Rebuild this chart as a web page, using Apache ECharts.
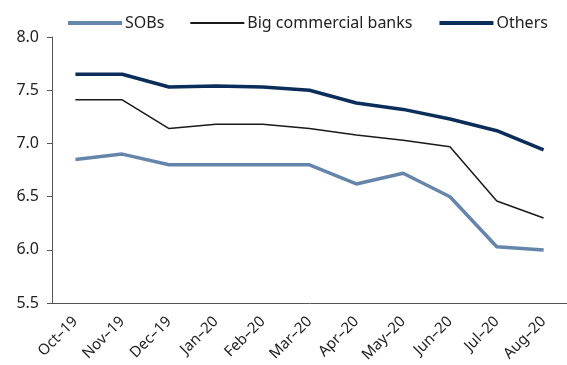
<!DOCTYPE html>
<html><head><meta charset="utf-8">
<script src="https://cdn.jsdelivr.net/npm/echarts@6/dist/echarts.min.js"></script>
<style>html,body{margin:0;padding:0;background:#fff}#c{width:567px;height:365px}</style>
</head><body><div id="c"></div>
<script>
const categories = ['Oct–19','Nov–19','Dec–19','Jan–20','Feb–20','Mar–20','Apr–20','May–20','Jun–20','Jul–20','Aug–20'];
const sobs = [6.85, 6.90, 6.80, 6.80, 6.80, 6.80, 6.62, 6.72, 6.50, 6.03, 6.00];
const bigBanks = [7.41, 7.41, 7.14, 7.18, 7.18, 7.14, 7.08, 7.03, 6.97, 6.46, 6.30];
const others = [7.65, 7.65, 7.53, 7.54, 7.53, 7.50, 7.38, 7.32, 7.23, 7.12, 6.94];
const yTicks = [5.5, 6.0, 6.5, 7.0, 7.5, 8.0];

const chart = echarts.init(document.getElementById('c'), null, {renderer:'canvas'});
const font = 'Noto Sans';
chart.setOption({
  animation:false,
  textStyle:{fontFamily:font},
  legend:{
    top:10, left:61, itemWidth:54, itemHeight:10, itemGap:25,
    itemStyle:{opacity:0},
    textStyle:{fontSize:16, color:'#222', fontFamily:font, padding:[0,0,0,-2]},
    data:[
      {name:'SOBs', lineStyle:{width:4}},
      {name:'Big commercial banks', lineStyle:{width:2}},
      {name:'Others', lineStyle:{width:4}}
    ]
  },
  grid:{left:52, right:0, top:37, bottom:61, containLabel:false},
  xAxis:{
    type:'category', data:categories, boundaryGap:true,
    axisLine:{lineStyle:{color:'#555', width:1}},
    axisTick:{inside:true, length:4, lineStyle:{color:'#555'}},
    axisLabel:{rotate:45, fontSize:15, color:'#222', fontFamily:font, margin:16}
  },
  yAxis:{
    type:'value', min:yTicks[0], max:yTicks[yTicks.length-1], interval:0.5,
    splitLine:{show:false},
    axisLine:{show:true, lineStyle:{color:'#555', width:1}},
    axisTick:{show:true, length:5, lineStyle:{color:'#555'}},
    axisLabel:{fontSize:16, color:'#222', fontFamily:font, margin:13, formatter:v=>v.toFixed(1)}
  },
  series:[
    {name:'SOBs', type:'line', data:sobs, symbol:'none', lineStyle:{color:'#6585ab', width:3.5}, itemStyle:{color:'#6585ab'}},
    {name:'Big commercial banks', type:'line', data:bigBanks, symbol:'none', lineStyle:{color:'#1a1a1a', width:1.5}, itemStyle:{color:'#1a1a1a'}},
    {name:'Others', type:'line', data:others, symbol:'none', lineStyle:{color:'#0a2d5a', width:3.5}, itemStyle:{color:'#0a2d5a'}}
  ]
});
</script></body></html>
